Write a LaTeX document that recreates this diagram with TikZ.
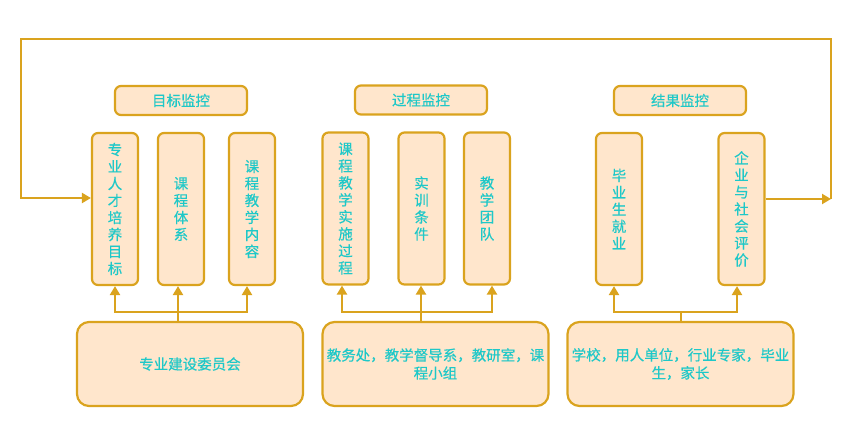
\documentclass[tikz,border=0pt]{standalone}
\usepackage{fontspec}
\setmainfont{Noto Sans CJK SC}[FakeBold=0.4]
\usetikzlibrary{arrows.meta}
\definecolor{edge}{RGB}{218,163,30}
\definecolor{boxfill}{RGB}{255,230,204}
\definecolor{txt}{RGB}{30,200,200}
\begin{document}
\begin{tikzpicture}[x=1pt,y=-1pt,
  box/.style={draw=edge,fill=boxfill,line width=2.2pt,rounded corners=6pt,inner sep=0pt,align=center,text=txt,font=\fontsize{14.5}{17}\selectfont},
  vbox/.style={box,minimum width=46pt,minimum height=152pt},
  hbox/.style={box,minimum width=132pt,minimum height=29pt},
  bbox/.style={box,rounded corners=12pt,minimum width=226pt,minimum height=84pt,text width=222pt,font=\fontsize{14.5}{18}\selectfont},
  line/.style={draw=edge,line width=2.2pt},
  arr/.style={line,-{Triangle[length=9pt,width=10pt]}}]
\useasboundingbox (0,0) rectangle (851,440);
% titles
\node[hbox] (g1) at (181,100.5) {目标监控};
\node[hbox] (g2) at (421,100) {过程监控};
\node[hbox] (g3) at (680,100.5) {结果监控};
% vertical boxes
\node[vbox] (t1) at (115,209) {专\\业\\人\\才\\培\\养\\目\\标};
\node[vbox] (t2) at (181,209) {课\\程\\体\\系};
\node[vbox] (t3) at (252,209) {课\\程\\教\\学\\内\\容};
\node[vbox] (t4) at (345.5,208.5) {课\\程\\教\\学\\实\\施\\过\\程};
\node[vbox] (t5) at (421.5,208.5) {实\\训\\条\\件};
\node[vbox] (t6) at (487,208.5) {教\\学\\团\\队};
\node[vbox] (t7) at (619,209) {毕\\业\\生\\就\\业};
\node[vbox] (t8) at (741.5,209) {企\\业\\与\\社\\会\\评\\价};
% bottom boxes
\node[bbox] (b1) at (190,364) {专业建设委员会};
\node[bbox] (b2) at (435.5,364) {教务处，教学督导系，教研室，课\\程小组};
\node[bbox] (b3) at (680.5,364) {学校，用人单位，行业专家，毕业\\生，家长};
% buses
\coordinate (h1) at (178,312);
\coordinate (h2) at (421,312);
\coordinate (h3) at (681,312);
\draw[arr] (b1.north -| h1) -- (h1) -| (t1.south);
\draw[arr] (h1) -- (h1 |- t2.south);
\draw[arr] (h1) -| ([xshift=-5pt]t3.south);
\draw[arr] (b2.north -| h2) -- (h2) -| ([xshift=-3.5pt]t4.south);
\draw[arr] (h2) -- (h2 |- t5.south);
\draw[arr] (h2) -| ([xshift=5pt]t6.south);
\draw[line] (b3.north -| h3) -- (h3);
\draw[arr] (h3) -| ([xshift=-5pt]t7.south);
\draw[arr] (h3) -| ([xshift=-4.5pt]t8.south);
% feedback loop
\coordinate (loopR) at (831,199);
\draw[arr] (t8.east |- loopR) -- (loopR);
\draw[arr] (loopR) -- (831,39) -- (21,39) -- (21,198) -- (t1.west |- 0,198);
\end{tikzpicture}
\end{document}
